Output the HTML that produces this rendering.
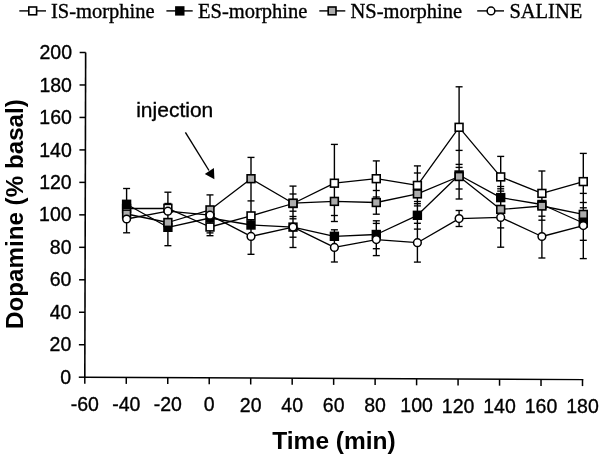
<!DOCTYPE html><html><head><meta charset="utf-8"><style>html,body{margin:0;padding:0;background:#fff;}svg{display:block;filter:grayscale(100%);}</style></head><body>
<svg width="600" height="460" viewBox="0 0 600 460">
<rect width="600" height="460" fill="#fff"/>
<line x1="85.65" y1="52.5" x2="84.8" y2="378.0" stroke="#000" stroke-width="1.6"/>
<line x1="84.0" y1="377.2" x2="583.3" y2="379.6" stroke="#000" stroke-width="1.4"/>
<line x1="78.80" y1="377.20" x2="84.80" y2="377.20" stroke="#000" stroke-width="1.5"/>
<text x="71.20" y="383.80" text-anchor="end" font-family="Liberation Sans, sans-serif" font-size="19.5" stroke="#000" stroke-width="0.35">0</text>
<line x1="78.88" y1="344.73" x2="84.88" y2="344.73" stroke="#000" stroke-width="1.5"/>
<text x="71.28" y="351.33" text-anchor="end" font-family="Liberation Sans, sans-serif" font-size="19.5" stroke="#000" stroke-width="0.35">20</text>
<line x1="78.97" y1="312.26" x2="84.97" y2="312.26" stroke="#000" stroke-width="1.5"/>
<text x="71.37" y="318.86" text-anchor="end" font-family="Liberation Sans, sans-serif" font-size="19.5" stroke="#000" stroke-width="0.35">40</text>
<line x1="79.06" y1="279.79" x2="85.06" y2="279.79" stroke="#000" stroke-width="1.5"/>
<text x="71.46" y="286.39" text-anchor="end" font-family="Liberation Sans, sans-serif" font-size="19.5" stroke="#000" stroke-width="0.35">60</text>
<line x1="79.14" y1="247.32" x2="85.14" y2="247.32" stroke="#000" stroke-width="1.5"/>
<text x="71.54" y="253.92" text-anchor="end" font-family="Liberation Sans, sans-serif" font-size="19.5" stroke="#000" stroke-width="0.35">80</text>
<line x1="79.22" y1="214.85" x2="85.22" y2="214.85" stroke="#000" stroke-width="1.5"/>
<text x="71.62" y="221.45" text-anchor="end" font-family="Liberation Sans, sans-serif" font-size="19.5" stroke="#000" stroke-width="0.35">100</text>
<line x1="79.31" y1="182.38" x2="85.31" y2="182.38" stroke="#000" stroke-width="1.5"/>
<text x="71.71" y="188.98" text-anchor="end" font-family="Liberation Sans, sans-serif" font-size="19.5" stroke="#000" stroke-width="0.35">120</text>
<line x1="79.40" y1="149.91" x2="85.40" y2="149.91" stroke="#000" stroke-width="1.5"/>
<text x="71.80" y="156.51" text-anchor="end" font-family="Liberation Sans, sans-serif" font-size="19.5" stroke="#000" stroke-width="0.35">140</text>
<line x1="79.48" y1="117.44" x2="85.48" y2="117.44" stroke="#000" stroke-width="1.5"/>
<text x="71.88" y="124.04" text-anchor="end" font-family="Liberation Sans, sans-serif" font-size="19.5" stroke="#000" stroke-width="0.35">160</text>
<line x1="79.56" y1="84.97" x2="85.56" y2="84.97" stroke="#000" stroke-width="1.5"/>
<text x="71.97" y="91.57" text-anchor="end" font-family="Liberation Sans, sans-serif" font-size="19.5" stroke="#000" stroke-width="0.35">180</text>
<line x1="79.65" y1="52.50" x2="85.65" y2="52.50" stroke="#000" stroke-width="1.5"/>
<text x="72.05" y="59.10" text-anchor="end" font-family="Liberation Sans, sans-serif" font-size="19.5" stroke="#000" stroke-width="0.35">200</text>
<line x1="84.80" y1="377.20" x2="84.80" y2="383.70" stroke="#000" stroke-width="1.5"/>
<text x="84.80" y="410.80" text-anchor="middle" font-family="Liberation Sans, sans-serif" font-size="19.5" stroke="#000" stroke-width="0.35">-60</text>
<line x1="126.27" y1="377.40" x2="126.27" y2="383.90" stroke="#000" stroke-width="1.5"/>
<text x="126.27" y="411.00" text-anchor="middle" font-family="Liberation Sans, sans-serif" font-size="19.5" stroke="#000" stroke-width="0.35">-40</text>
<line x1="167.75" y1="377.60" x2="167.75" y2="384.10" stroke="#000" stroke-width="1.5"/>
<text x="167.75" y="411.20" text-anchor="middle" font-family="Liberation Sans, sans-serif" font-size="19.5" stroke="#000" stroke-width="0.35">-20</text>
<line x1="209.22" y1="377.80" x2="209.22" y2="384.30" stroke="#000" stroke-width="1.5"/>
<text x="209.22" y="411.40" text-anchor="middle" font-family="Liberation Sans, sans-serif" font-size="19.5" stroke="#000" stroke-width="0.35">0</text>
<line x1="250.70" y1="378.00" x2="250.70" y2="384.50" stroke="#000" stroke-width="1.5"/>
<text x="250.70" y="411.60" text-anchor="middle" font-family="Liberation Sans, sans-serif" font-size="19.5" stroke="#000" stroke-width="0.35">20</text>
<line x1="292.18" y1="378.20" x2="292.18" y2="384.70" stroke="#000" stroke-width="1.5"/>
<text x="292.18" y="411.80" text-anchor="middle" font-family="Liberation Sans, sans-serif" font-size="19.5" stroke="#000" stroke-width="0.35">40</text>
<line x1="333.65" y1="378.40" x2="333.65" y2="384.90" stroke="#000" stroke-width="1.5"/>
<text x="333.65" y="412.00" text-anchor="middle" font-family="Liberation Sans, sans-serif" font-size="19.5" stroke="#000" stroke-width="0.35">60</text>
<line x1="375.12" y1="378.60" x2="375.12" y2="385.10" stroke="#000" stroke-width="1.5"/>
<text x="375.12" y="412.20" text-anchor="middle" font-family="Liberation Sans, sans-serif" font-size="19.5" stroke="#000" stroke-width="0.35">80</text>
<line x1="416.60" y1="378.80" x2="416.60" y2="385.30" stroke="#000" stroke-width="1.5"/>
<text x="416.60" y="412.40" text-anchor="middle" font-family="Liberation Sans, sans-serif" font-size="19.5" stroke="#000" stroke-width="0.35">100</text>
<line x1="458.07" y1="379.00" x2="458.07" y2="385.50" stroke="#000" stroke-width="1.5"/>
<text x="458.07" y="412.60" text-anchor="middle" font-family="Liberation Sans, sans-serif" font-size="19.5" stroke="#000" stroke-width="0.35">120</text>
<line x1="499.55" y1="379.20" x2="499.55" y2="385.70" stroke="#000" stroke-width="1.5"/>
<text x="499.55" y="412.80" text-anchor="middle" font-family="Liberation Sans, sans-serif" font-size="19.5" stroke="#000" stroke-width="0.35">140</text>
<line x1="541.02" y1="379.40" x2="541.02" y2="385.90" stroke="#000" stroke-width="1.5"/>
<text x="541.02" y="413.00" text-anchor="middle" font-family="Liberation Sans, sans-serif" font-size="19.5" stroke="#000" stroke-width="0.35">160</text>
<line x1="582.50" y1="379.60" x2="582.50" y2="386.10" stroke="#000" stroke-width="1.5"/>
<text x="582.50" y="413.20" text-anchor="middle" font-family="Liberation Sans, sans-serif" font-size="19.5" stroke="#000" stroke-width="0.35">180</text>
<text x="334.0" y="449.3" text-anchor="middle" font-family="Liberation Sans, sans-serif" font-weight="bold" font-size="24.5">Time (min)</text>
<text transform="translate(23.2,214.1) rotate(-90)" text-anchor="middle" font-family="Liberation Sans, sans-serif" font-weight="bold" font-size="24.2">Dopamine (% basal)</text>
<text x="136.2" y="117.0" font-family="Liberation Sans, sans-serif" font-size="21" stroke="#000" stroke-width="0.35">injection</text>
<line x1="185.4" y1="132.4" x2="209" y2="170.5" stroke="#000" stroke-width="1.4"/>
<polygon points="214.4,179.2 204.8,173.9 213.9,168.0" fill="#000"/>
<line x1="126.6" y1="188.5" x2="126.6" y2="232.8" stroke="#000" stroke-width="1.4"/>
<line x1="123.10" y1="188.5" x2="130.10" y2="188.5" stroke="#000" stroke-width="1.35"/>
<line x1="123.10" y1="232.8" x2="130.10" y2="232.8" stroke="#000" stroke-width="1.35"/>
<line x1="167.9" y1="192.2" x2="167.9" y2="245.7" stroke="#000" stroke-width="1.4"/>
<line x1="164.40" y1="192.2" x2="171.40" y2="192.2" stroke="#000" stroke-width="1.35"/>
<line x1="164.40" y1="203.5" x2="171.40" y2="203.5" stroke="#000" stroke-width="1.35"/>
<line x1="164.40" y1="245.7" x2="171.40" y2="245.7" stroke="#000" stroke-width="1.35"/>
<line x1="210.0" y1="194.9" x2="210.0" y2="235.7" stroke="#000" stroke-width="1.4"/>
<line x1="206.50" y1="194.9" x2="213.50" y2="194.9" stroke="#000" stroke-width="1.35"/>
<line x1="206.50" y1="232.9" x2="213.50" y2="232.9" stroke="#000" stroke-width="1.35"/>
<line x1="206.50" y1="235.7" x2="213.50" y2="235.7" stroke="#000" stroke-width="1.35"/>
<line x1="251.0" y1="157.4" x2="251.0" y2="254.3" stroke="#000" stroke-width="1.4"/>
<line x1="247.50" y1="157.4" x2="254.50" y2="157.4" stroke="#000" stroke-width="1.35"/>
<line x1="247.50" y1="200.9" x2="254.50" y2="200.9" stroke="#000" stroke-width="1.35"/>
<line x1="247.50" y1="254.3" x2="254.50" y2="254.3" stroke="#000" stroke-width="1.35"/>
<line x1="293.0" y1="186.1" x2="293.0" y2="247.5" stroke="#000" stroke-width="1.4"/>
<line x1="289.50" y1="186.1" x2="296.50" y2="186.1" stroke="#000" stroke-width="1.35"/>
<line x1="289.50" y1="194.0" x2="296.50" y2="194.0" stroke="#000" stroke-width="1.35"/>
<line x1="289.50" y1="211.2" x2="296.50" y2="211.2" stroke="#000" stroke-width="1.35"/>
<line x1="289.50" y1="216.5" x2="296.50" y2="216.5" stroke="#000" stroke-width="1.35"/>
<line x1="289.50" y1="218.8" x2="296.50" y2="218.8" stroke="#000" stroke-width="1.35"/>
<line x1="289.50" y1="237.2" x2="296.50" y2="237.2" stroke="#000" stroke-width="1.35"/>
<line x1="289.50" y1="247.5" x2="296.50" y2="247.5" stroke="#000" stroke-width="1.35"/>
<line x1="334.4" y1="144.4" x2="334.4" y2="221.5" stroke="#000" stroke-width="1.4"/>
<line x1="334.4" y1="229.8" x2="334.4" y2="262.0" stroke="#000" stroke-width="1.4"/>
<line x1="330.90" y1="144.4" x2="337.90" y2="144.4" stroke="#000" stroke-width="1.35"/>
<line x1="330.90" y1="215.5" x2="337.90" y2="215.5" stroke="#000" stroke-width="1.35"/>
<line x1="330.90" y1="221.5" x2="337.90" y2="221.5" stroke="#000" stroke-width="1.35"/>
<line x1="330.90" y1="229.8" x2="337.90" y2="229.8" stroke="#000" stroke-width="1.35"/>
<line x1="330.90" y1="262.0" x2="337.90" y2="262.0" stroke="#000" stroke-width="1.35"/>
<line x1="376.3" y1="160.9" x2="376.3" y2="214.2" stroke="#000" stroke-width="1.4"/>
<line x1="376.3" y1="220.8" x2="376.3" y2="255.6" stroke="#000" stroke-width="1.4"/>
<line x1="372.80" y1="160.9" x2="379.80" y2="160.9" stroke="#000" stroke-width="1.35"/>
<line x1="372.80" y1="190.5" x2="379.80" y2="190.5" stroke="#000" stroke-width="1.35"/>
<line x1="372.80" y1="197.0" x2="379.80" y2="197.0" stroke="#000" stroke-width="1.35"/>
<line x1="372.80" y1="214.2" x2="379.80" y2="214.2" stroke="#000" stroke-width="1.35"/>
<line x1="372.80" y1="220.8" x2="379.80" y2="220.8" stroke="#000" stroke-width="1.35"/>
<line x1="372.80" y1="223.4" x2="379.80" y2="223.4" stroke="#000" stroke-width="1.35"/>
<line x1="372.80" y1="248.7" x2="379.80" y2="248.7" stroke="#000" stroke-width="1.35"/>
<line x1="372.80" y1="255.6" x2="379.80" y2="255.6" stroke="#000" stroke-width="1.35"/>
<line x1="417.4" y1="165.9" x2="417.4" y2="262.1" stroke="#000" stroke-width="1.4"/>
<line x1="413.90" y1="165.9" x2="420.90" y2="165.9" stroke="#000" stroke-width="1.35"/>
<line x1="413.90" y1="173.0" x2="420.90" y2="173.0" stroke="#000" stroke-width="1.35"/>
<line x1="413.90" y1="201.5" x2="420.90" y2="201.5" stroke="#000" stroke-width="1.35"/>
<line x1="413.90" y1="203.7" x2="420.90" y2="203.7" stroke="#000" stroke-width="1.35"/>
<line x1="413.90" y1="205.9" x2="420.90" y2="205.9" stroke="#000" stroke-width="1.35"/>
<line x1="413.90" y1="223.3" x2="420.90" y2="223.3" stroke="#000" stroke-width="1.35"/>
<line x1="413.90" y1="229.1" x2="420.90" y2="229.1" stroke="#000" stroke-width="1.35"/>
<line x1="413.90" y1="262.1" x2="420.90" y2="262.1" stroke="#000" stroke-width="1.35"/>
<line x1="459.1" y1="86.8" x2="459.1" y2="199.0" stroke="#000" stroke-width="1.4"/>
<line x1="459.1" y1="210.5" x2="459.1" y2="226.5" stroke="#000" stroke-width="1.4"/>
<line x1="455.60" y1="86.8" x2="462.60" y2="86.8" stroke="#000" stroke-width="1.35"/>
<line x1="455.60" y1="150.4" x2="462.60" y2="150.4" stroke="#000" stroke-width="1.35"/>
<line x1="455.60" y1="164.4" x2="462.60" y2="164.4" stroke="#000" stroke-width="1.35"/>
<line x1="455.60" y1="167.4" x2="462.60" y2="167.4" stroke="#000" stroke-width="1.35"/>
<line x1="455.60" y1="189.0" x2="462.60" y2="189.0" stroke="#000" stroke-width="1.35"/>
<line x1="455.60" y1="199.0" x2="462.60" y2="199.0" stroke="#000" stroke-width="1.35"/>
<line x1="455.60" y1="210.5" x2="462.60" y2="210.5" stroke="#000" stroke-width="1.35"/>
<line x1="455.60" y1="226.5" x2="462.60" y2="226.5" stroke="#000" stroke-width="1.35"/>
<line x1="500.7" y1="156.4" x2="500.7" y2="247.2" stroke="#000" stroke-width="1.4"/>
<line x1="497.20" y1="156.4" x2="504.20" y2="156.4" stroke="#000" stroke-width="1.35"/>
<line x1="497.20" y1="186.5" x2="504.20" y2="186.5" stroke="#000" stroke-width="1.35"/>
<line x1="497.20" y1="188.8" x2="504.20" y2="188.8" stroke="#000" stroke-width="1.35"/>
<line x1="497.20" y1="191.1" x2="504.20" y2="191.1" stroke="#000" stroke-width="1.35"/>
<line x1="497.20" y1="227.9" x2="504.20" y2="227.9" stroke="#000" stroke-width="1.35"/>
<line x1="497.20" y1="247.2" x2="504.20" y2="247.2" stroke="#000" stroke-width="1.35"/>
<line x1="541.9" y1="171.0" x2="541.9" y2="258.0" stroke="#000" stroke-width="1.4"/>
<line x1="538.40" y1="171.0" x2="545.40" y2="171.0" stroke="#000" stroke-width="1.35"/>
<line x1="538.40" y1="216.2" x2="545.40" y2="216.2" stroke="#000" stroke-width="1.35"/>
<line x1="538.40" y1="220.2" x2="545.40" y2="220.2" stroke="#000" stroke-width="1.35"/>
<line x1="538.40" y1="258.0" x2="545.40" y2="258.0" stroke="#000" stroke-width="1.35"/>
<line x1="583.3" y1="153.4" x2="583.3" y2="258.6" stroke="#000" stroke-width="1.4"/>
<line x1="579.80" y1="153.4" x2="586.80" y2="153.4" stroke="#000" stroke-width="1.35"/>
<line x1="579.80" y1="193.4" x2="586.80" y2="193.4" stroke="#000" stroke-width="1.35"/>
<line x1="579.80" y1="202.5" x2="586.80" y2="202.5" stroke="#000" stroke-width="1.35"/>
<line x1="579.80" y1="207.8" x2="586.80" y2="207.8" stroke="#000" stroke-width="1.35"/>
<line x1="579.80" y1="240.3" x2="586.80" y2="240.3" stroke="#000" stroke-width="1.35"/>
<line x1="579.80" y1="258.6" x2="586.80" y2="258.6" stroke="#000" stroke-width="1.35"/>
<polyline points="126.6,208.5 167.9,208.3 210.0,227.0 251.0,215.9 293.0,203.5 334.4,183.2 376.3,178.7 417.4,185.4 459.1,127.3 500.7,176.9 541.9,193.4 583.3,181.6" fill="none" stroke="#000" stroke-width="1.3" stroke-linejoin="round"/>
<polyline points="126.6,204.3 167.9,227.3 210.0,218.0 251.0,225.0 293.0,227.1 334.4,236.3 376.3,234.5 417.4,215.3 459.1,175.0 500.7,197.6 541.9,204.5 583.3,223.0" fill="none" stroke="#000" stroke-width="1.3" stroke-linejoin="round"/>
<polyline points="126.6,214.0 167.9,222.5 210.0,209.9 251.0,178.7 293.0,203.2 334.4,201.4 376.3,202.5 417.4,193.9 459.1,176.5 500.7,209.4 541.9,206.0 583.3,214.4" fill="none" stroke="#000" stroke-width="1.3" stroke-linejoin="round"/>
<polyline points="126.6,219.0 167.9,211.2 210.0,215.2 251.0,236.4 293.0,227.1 334.4,247.4 376.3,239.6 417.4,242.7 459.1,218.6 500.7,217.4 541.9,236.5 583.3,225.6" fill="none" stroke="#000" stroke-width="1.3" stroke-linejoin="round"/>
<rect x="122.70" y="204.60" width="7.8" height="7.8" fill="#fff" stroke="#000" stroke-width="1.6"/>
<rect x="164.00" y="204.40" width="7.8" height="7.8" fill="#fff" stroke="#000" stroke-width="1.6"/>
<rect x="206.10" y="223.10" width="7.8" height="7.8" fill="#fff" stroke="#000" stroke-width="1.6"/>
<rect x="247.10" y="212.00" width="7.8" height="7.8" fill="#fff" stroke="#000" stroke-width="1.6"/>
<rect x="289.10" y="199.60" width="7.8" height="7.8" fill="#fff" stroke="#000" stroke-width="1.6"/>
<rect x="330.50" y="179.30" width="7.8" height="7.8" fill="#fff" stroke="#000" stroke-width="1.6"/>
<rect x="372.40" y="174.80" width="7.8" height="7.8" fill="#fff" stroke="#000" stroke-width="1.6"/>
<rect x="413.50" y="181.50" width="7.8" height="7.8" fill="#fff" stroke="#000" stroke-width="1.6"/>
<rect x="455.20" y="123.40" width="7.8" height="7.8" fill="#fff" stroke="#000" stroke-width="1.6"/>
<rect x="496.80" y="173.00" width="7.8" height="7.8" fill="#fff" stroke="#000" stroke-width="1.6"/>
<rect x="538.00" y="189.50" width="7.8" height="7.8" fill="#fff" stroke="#000" stroke-width="1.6"/>
<rect x="579.40" y="177.70" width="7.8" height="7.8" fill="#fff" stroke="#000" stroke-width="1.6"/>
<rect x="122.70" y="200.40" width="7.8" height="7.8" fill="#000" stroke="#000" stroke-width="1.6"/>
<rect x="164.00" y="223.40" width="7.8" height="7.8" fill="#000" stroke="#000" stroke-width="1.6"/>
<rect x="206.10" y="214.10" width="7.8" height="7.8" fill="#000" stroke="#000" stroke-width="1.6"/>
<rect x="247.10" y="221.10" width="7.8" height="7.8" fill="#000" stroke="#000" stroke-width="1.6"/>
<rect x="289.10" y="223.20" width="7.8" height="7.8" fill="#000" stroke="#000" stroke-width="1.6"/>
<rect x="330.50" y="232.40" width="7.8" height="7.8" fill="#000" stroke="#000" stroke-width="1.6"/>
<rect x="372.40" y="230.60" width="7.8" height="7.8" fill="#000" stroke="#000" stroke-width="1.6"/>
<rect x="413.50" y="211.40" width="7.8" height="7.8" fill="#000" stroke="#000" stroke-width="1.6"/>
<rect x="455.20" y="171.10" width="7.8" height="7.8" fill="#000" stroke="#000" stroke-width="1.6"/>
<rect x="496.80" y="193.70" width="7.8" height="7.8" fill="#000" stroke="#000" stroke-width="1.6"/>
<rect x="538.00" y="200.60" width="7.8" height="7.8" fill="#000" stroke="#000" stroke-width="1.6"/>
<rect x="579.40" y="219.10" width="7.8" height="7.8" fill="#000" stroke="#000" stroke-width="1.6"/>
<rect x="122.70" y="210.10" width="7.8" height="7.8" fill="#acacac" stroke="#000" stroke-width="1.6"/>
<rect x="164.00" y="218.60" width="7.8" height="7.8" fill="#acacac" stroke="#000" stroke-width="1.6"/>
<rect x="206.10" y="206.00" width="7.8" height="7.8" fill="#acacac" stroke="#000" stroke-width="1.6"/>
<rect x="247.10" y="174.80" width="7.8" height="7.8" fill="#acacac" stroke="#000" stroke-width="1.6"/>
<rect x="289.10" y="199.30" width="7.8" height="7.8" fill="#acacac" stroke="#000" stroke-width="1.6"/>
<rect x="330.50" y="197.50" width="7.8" height="7.8" fill="#acacac" stroke="#000" stroke-width="1.6"/>
<rect x="372.40" y="198.60" width="7.8" height="7.8" fill="#acacac" stroke="#000" stroke-width="1.6"/>
<rect x="413.50" y="190.00" width="7.8" height="7.8" fill="#acacac" stroke="#000" stroke-width="1.6"/>
<rect x="455.20" y="172.60" width="7.8" height="7.8" fill="#acacac" stroke="#000" stroke-width="1.6"/>
<rect x="496.80" y="205.50" width="7.8" height="7.8" fill="#acacac" stroke="#000" stroke-width="1.6"/>
<rect x="538.00" y="202.10" width="7.8" height="7.8" fill="#acacac" stroke="#000" stroke-width="1.6"/>
<rect x="579.40" y="210.50" width="7.8" height="7.8" fill="#acacac" stroke="#000" stroke-width="1.6"/>
<circle cx="126.6" cy="219.0" r="3.85" fill="#fff" stroke="#000" stroke-width="1.5"/>
<circle cx="167.9" cy="211.2" r="3.85" fill="#fff" stroke="#000" stroke-width="1.5"/>
<circle cx="210.0" cy="215.2" r="3.85" fill="#fff" stroke="#000" stroke-width="1.5"/>
<circle cx="251.0" cy="236.4" r="3.85" fill="#fff" stroke="#000" stroke-width="1.5"/>
<circle cx="293.0" cy="227.1" r="3.85" fill="#fff" stroke="#000" stroke-width="1.5"/>
<circle cx="334.4" cy="247.4" r="3.85" fill="#fff" stroke="#000" stroke-width="1.5"/>
<circle cx="376.3" cy="239.6" r="3.85" fill="#fff" stroke="#000" stroke-width="1.5"/>
<circle cx="417.4" cy="242.7" r="3.85" fill="#fff" stroke="#000" stroke-width="1.5"/>
<circle cx="459.1" cy="218.6" r="3.85" fill="#fff" stroke="#000" stroke-width="1.5"/>
<circle cx="500.7" cy="217.4" r="3.85" fill="#fff" stroke="#000" stroke-width="1.5"/>
<circle cx="541.9" cy="236.5" r="3.85" fill="#fff" stroke="#000" stroke-width="1.5"/>
<circle cx="583.3" cy="225.6" r="3.85" fill="#fff" stroke="#000" stroke-width="1.5"/>
<line x1="19.3" y1="10.9" x2="46" y2="10.9" stroke="#000" stroke-width="1.4"/>
<rect x="28.80" y="7.00" width="7.8" height="7.8" fill="#fff" stroke="#000" stroke-width="1.6"/>
<line x1="166.4" y1="10.9" x2="192.7" y2="10.9" stroke="#000" stroke-width="1.4"/>
<rect x="175.90" y="7.00" width="7.8" height="7.8" fill="#000" stroke="#000" stroke-width="1.6"/>
<line x1="319.3" y1="10.9" x2="345.3" y2="10.9" stroke="#000" stroke-width="1.4"/>
<rect x="328.20" y="7.00" width="7.8" height="7.8" fill="#acacac" stroke="#000" stroke-width="1.6"/>
<line x1="477.2" y1="10.9" x2="504" y2="10.9" stroke="#000" stroke-width="1.4"/>
<circle cx="491" cy="10.9" r="3.85" fill="#fff" stroke="#000" stroke-width="1.5"/>
<text x="51" y="18.4" font-family="Liberation Serif, serif" stroke="#000" stroke-width="0.35" font-size="20.5">IS-morphine</text>
<text x="198" y="18.4" font-family="Liberation Serif, serif" stroke="#000" stroke-width="0.35" font-size="20.5">ES-morphine</text>
<text x="350.5" y="18.4" font-family="Liberation Serif, serif" stroke="#000" stroke-width="0.35" font-size="20.5">NS-morphine</text>
<text x="509.4" y="18.4" font-family="Liberation Serif, serif" stroke="#000" stroke-width="0.35" font-size="20.5">SALINE</text>
</svg></body></html>
